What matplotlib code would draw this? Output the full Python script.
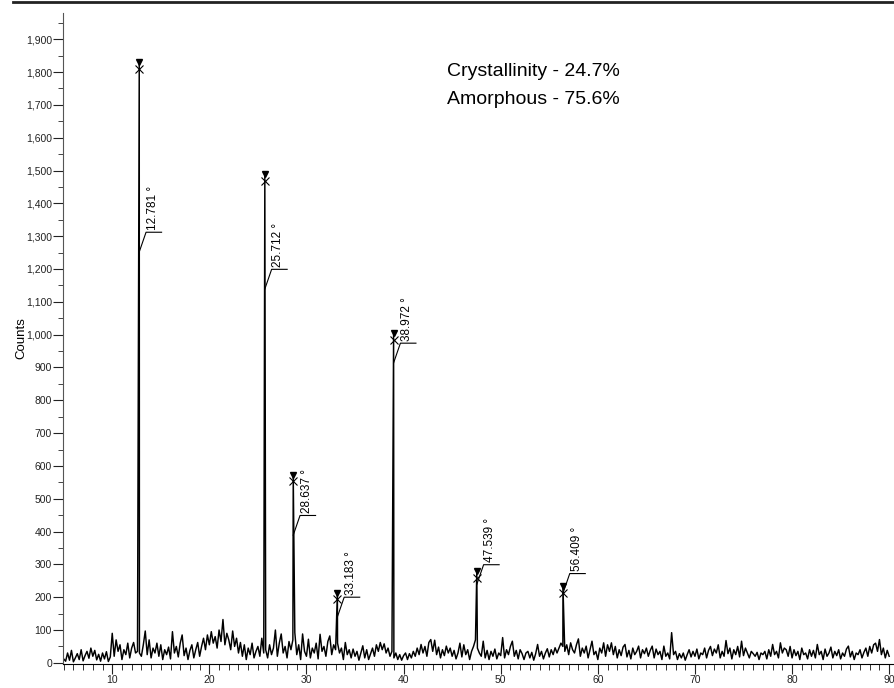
import numpy as np
import matplotlib
matplotlib.use("Agg")
import matplotlib.pyplot as plt
from matplotlib.ticker import MultipleLocator, FuncFormatter
from matplotlib.lines import Line2D

plt.rcParams['font.family'] = ['Liberation Sans', 'DejaVu Sans']

# background counts, 2-theta from 5.0 in 0.2 deg steps
noise = [
    12, 5, 30, 8, 38, 3, 15, 28, 10, 40, 6, 22, 35, 14, 45, 20, 38, 9, 26, 5, 30, 12, 34, 4, 18,
    90, 20, 70, 35, 55, 10, 40, 25, 60, 15, 45, 62, 30, 35, 30, 20, 55, 97, 25, 70, 15, 45, 30, 60, 20,
    55, 10, 40, 25, 48, 12, 95, 30, 50, 18, 60, 85, 22, 45, 10, 38, 55, 15, 40, 62, 20, 50, 75, 40, 85,
    55, 95, 60, 80, 45, 100, 65, 132, 55, 90, 70, 40, 97, 50, 75, 30, 62, 20, 55, 10, 45, 25, 60, 15, 35,
    50, 20, 75, 30, 40, 15, 55, 25, 45, 100, 20, 60, 88, 30, 50, 15, 65, 40, 70, 92, 25, 55, 10, 88, 35,
    20, 72, 15, 45, 30, 60, 12, 87, 35, 50, 20, 65, 82, 25, 55, 40, 60, 30, 45, 10, 62, 25, 40, 15, 42,
    20, 35, 8, 30, 52, 15, 40, 10, 28, 45, 20, 55, 35, 62, 40, 58, 30, 45, 20, 35, 15, 30, 10, 25, 8,
    22, 30, 10, 28, 15, 35, 20, 45, 25, 56, 30, 50, 20, 62, 71, 35, 69, 25, 48, 15, 40, 22, 51, 30, 45,
    20, 38, 12, 30, 60, 18, 55, 25, 40, 10, 35, 50, 70, 45, 30, 20, 66, 15, 38, 10, 35, 20, 42, 12, 30,
    22, 77, 15, 40, 25, 50, 66, 20, 38, 12, 40, 28, 10, 30, 35, 15, 32, 8, 28, 56, 20, 35, 12, 30, 43,
    18, 40, 25, 46, 30, 45, 60, 50, 35, 55, 25, 61, 40, 30, 55, 73, 20, 45, 30, 51, 15, 40, 66, 25, 35,
    10, 45, 30, 61, 20, 55, 35, 61, 25, 50, 15, 40, 22, 48, 56, 18, 38, 12, 45, 25, 35, 51, 15, 40, 28,
    45, 20, 38, 51, 15, 42, 25, 35, 10, 51, 20, 30, 12, 92, 25, 35, 10, 28, 15, 30, 8, 25, 40, 18, 35,
    20, 42, 12, 30, 25, 45, 15, 38, 50, 22, 42, 30, 55, 15, 35, 20, 68, 28, 45, 12, 40, 25, 50, 18, 66,
    22, 45, 30, 15, 35, 28, 20, 32, 10, 30, 25, 35, 12, 40, 20, 56, 25, 35, 15, 61, 30, 45, 40, 20, 50,
    15, 40, 22, 35, 10, 45, 25, 30, 12, 40, 20, 38, 15, 56, 25, 35, 10, 42, 20, 30, 48, 15, 35, 22, 40,
    12, 30, 20, 42, 51, 18, 35, 10, 30, 25, 40, 15, 32, 45, 20, 50, 30, 55, 60, 35, 71, 25, 45, 15, 38, 20,
]
two_theta = 5.0 + 0.2 * np.arange(len(noise))

# labelled reflections
peak_pos = [12.781, 25.712, 28.637, 33.183, 38.972, 47.539, 56.409]
peak_height = [1830, 1488, 573, 214, 1005, 280, 234]
label_y = [1312, 1199, 449, 200, 974, 299, 272]
peak_labels = ['12.781 °', '25.712 °', '28.637 °', '33.183 °', '38.972 °', '47.539 °', '56.409 °']

xs = np.concatenate([two_theta, peak_pos])
ys = np.concatenate([np.array(noise, dtype=float), peak_height])
order = np.argsort(xs)
xs, ys = xs[order], ys[order]

fig = plt.figure(figsize=(8.95, 6.88), dpi=100)
ax = fig.add_axes([63 / 895, 24.5 / 688, 832 / 895, 650.5 / 688])

ax.plot(xs, ys, color='black', lw=1.05)

for p, h, ly, lab in zip(peak_pos, peak_height, label_y, peak_labels):
    ax.plot(p, h, marker='v', color='black', ms=5, ls='none')
    ax.plot(p, h - 20, marker='x', color='black', ms=6, mew=0.8, ls='none')
    ax.plot([p, p + 0.7, p + 0.7, p + 2.3], [ly - 60, ly, ly, ly], color='black', lw=0.8)
    ax.text(p + 1.4, ly + 8, lab, rotation=90, ha='center', va='bottom', fontsize=8.5)

ax.set_xlim(4.93, 90.6)
ax.set_ylim(-2, 1980)

ax.spines['top'].set_visible(False)
ax.spines['right'].set_visible(False)
ax.spines['left'].set_color('#555555')
ax.spines['bottom'].set_color('black')

ax.xaxis.set_major_locator(MultipleLocator(10))
ax.xaxis.set_minor_locator(MultipleLocator(1))
ax.yaxis.set_major_locator(MultipleLocator(100))
ax.yaxis.set_minor_locator(MultipleLocator(50))
ax.yaxis.set_major_formatter(FuncFormatter(lambda v, pos: f'{int(v):,}'))

ax.tick_params(axis='x', which='major', length=7, width=0.8, labelsize=7.5, pad=1, colors='#222222')
ax.tick_params(axis='x', which='minor', length=4, width=0.7, colors='#333333')
ax.tick_params(axis='y', which='major', length=7, width=0.8, labelsize=7.5, pad=1, colors='#222222')
ax.tick_params(axis='y', which='minor', length=3.5, width=0.7, colors='#444444')

fig.text(21 / 895, 1 - 338 / 688, 'Counts', rotation=90, ha='center', va='center', fontsize=9.5)

fig.text(447 / 895, 1 - 72 / 688, 'Crystallinity - 24.7%', ha='left', va='center', fontsize=14)
fig.text(447 / 895, 1 - 100 / 688, 'Amorphous - 75.6%', ha='left', va='center', fontsize=14)

# frame line along the top of the image
fig.add_artist(Line2D([13 / 895, 1.0], [1 - 1.5 / 688, 1 - 1.5 / 688], color='#222222', lw=2,
                      transform=fig.transFigure))

fig.savefig('out.png', dpi=100)
